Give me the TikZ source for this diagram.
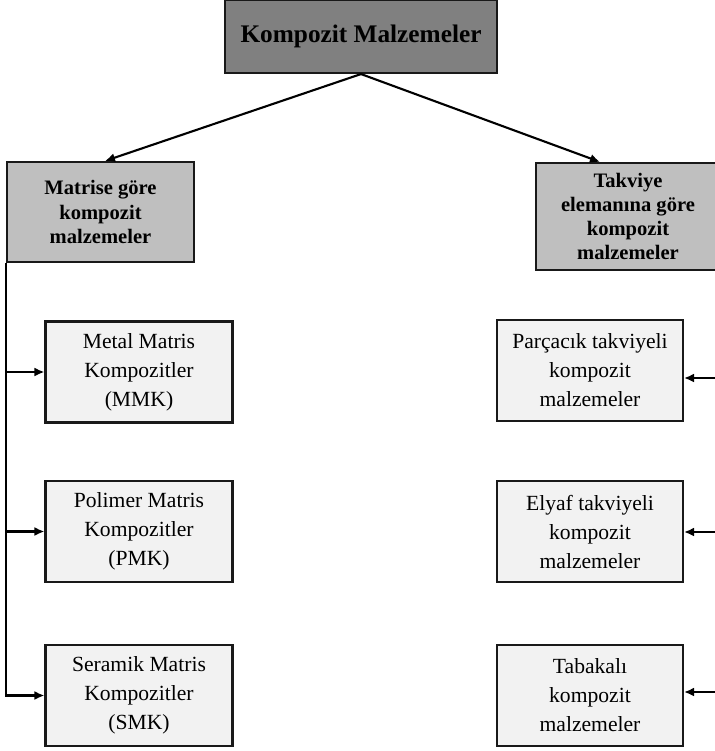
\documentclass[tikz,border=0pt]{standalone}
\usepackage{fontspec}
\setmainfont{Liberation Serif}
\usetikzlibrary{arrows.meta}

\begin{document}
\begin{tikzpicture}[
  x=0.02cm, y=-0.02cm,
  box/.style={draw=black!90, line width=1.2pt, align=center, inner sep=2pt},
  topbox/.style={box, fill=black!50, minimum width=5.44cm, minimum height=1.46cm,
    font=\fontsize{14.4}{17}\selectfont\bfseries},
  groupbox/.style={box, fill=black!25, font=\fontsize{11.7}{13.8}\selectfont\bfseries},
  leafbox/.style={box, fill=black!5, minimum width=3.74cm, minimum height=2.02cm,
    font=\fontsize{12.3}{16.5}\selectfont},
  arr/.style={-{Latex[length=2mm, width=1.8mm]}, line width=1.2pt}
]
\useasboundingbox (0,0) rectangle (715,751);
\node[topbox] (top) at (361,36.5) {Kompozit Malzemeler};
\node[groupbox, minimum width=3.74cm, minimum height=2cm] (matris) at (100.5,212)
  {Matrise göre\\kompozit\\malzemeler};
\node[groupbox, minimum width=3.68cm, minimum height=2.14cm] (takviye) at (628,216.5)
  {Takviye\\elemanına göre\\kompozit\\malzemeler};
% matrix based
\node[leafbox] (mmk) at (139,372) {Metal Matris\\Kompozitler\\(MMK)};
\node[leafbox] (pmk) at (139,531.5) {Polimer Matris\\Kompozitler\\(PMK)};
\node[leafbox] (smk) at (139,695.5) {Seramik Matris\\Kompozitler\\(SMK)};
% reinforcement based
\node[leafbox, minimum width=3.72cm] (parcacik) at (590,370.5) {Parçacık takviyeli\\kompozit\\malzemeler};
\node[leafbox, minimum width=3.72cm] (elyaf) at (590,531.5) {Elyaf takviyeli\\kompozit\\malzemeler};
\node[leafbox, minimum width=3.72cm] (tabakali) at (590,695.5) {Tabakalı\\kompozit\\malzemeler};
\coordinate (r1) at (715,378);
\coordinate (r2) at (715,532);
\coordinate (r3) at (715,692);

\draw[arr] (top.south) -- ([xshift=0.09cm]matris.north);
\draw[arr] (top.south) -- ([xshift=-0.56cm]takviye.north);
\draw[arr] (matris.south west) |- (smk.west);
\foreach \n in {mmk,pmk}
  \draw[arr] (matris.south west |- \n.west) -- (\n.west);
\foreach \c/\n in {r1/parcacik,r2/elyaf,r3/tabakali}
  \draw[arr] (\c) -- (\c -| \n.east);
\end{tikzpicture}
\end{document}
